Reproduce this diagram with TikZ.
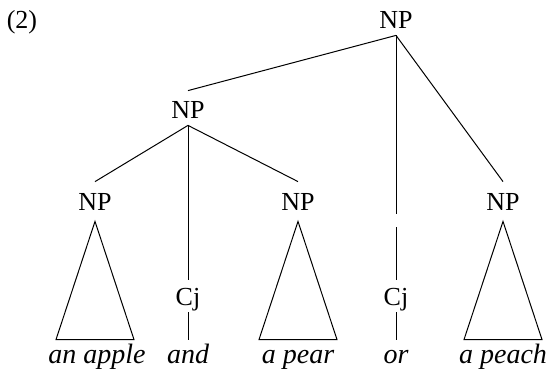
\documentclass[tikz,border=0pt]{standalone}
\usepackage{fontspec}
\setmainfont{Liberation Serif}
\usetikzlibrary{calc}

\begin{document}
\begin{tikzpicture}[
  x=0.5pt, y=-0.5pt,
  cat/.style={font=\fontsize{13}{15}\selectfont, anchor=base,
              text height=11pt, text depth=0pt, inner ysep=3pt, inner xsep=0pt},
  conj/.style={cat, text depth=2pt, inner ysep=1.5pt},
  word/.style={font=\fontsize{14}{16}\selectfont\itshape, anchor=base,
               text height=11pt, text depth=0pt, inner ysep=0.5pt, inner xsep=0pt},
  branch/.style={line width=0.5pt}
]
\useasboundingbox (0,0) rectangle (550,369);

% Example number
\node[cat] (ex) at (22,29) {(2)};

% Category labels
\node[cat]  (np0) at (396,29)  {NP};
\node[cat]  (np1) at (188,119) {NP};
\node[cat]  (npa) at (95,210)  {NP};
\node[cat]  (npb) at (298,210) {NP};
\node[cat]  (npc) at (503,210) {NP};
\node[conj] (cja) at (188,305) {Cj};
\node[conj] (cjb) at (396,305) {Cj};

% Words
\node[word] (wa) at (97,363)  {an apple};
\node[word] (wb) at (188,363) {and};
\node[word] (wc) at (298,363) {a pear};
\node[word] (wd) at (396,363) {or};
\node[word] (we) at (503,363) {a peach};

% Branches
\foreach \a/\b in {np0/np1, np0/npc, np1/npa, np1/npb, np1/cja}
  \draw[branch] (\a.south) -- (\b.north);

% Broken branch down to the second conjunction
\coordinate (gapa) at (396,214);
\coordinate (gapb) at (396,227);
\draw[branch] (np0.south) -- (gapa);
\draw[branch] (gapb) -- (cjb.north);

\foreach \c/\w in {cja/wb, cjb/wd}
  \draw[branch] (\c.south) -- (\w.north);

% Triangles over the NPs
\foreach \n/\w in {npa/wa, npb/wc, npc/we}
  \draw[branch] ([yshift=-2.5pt]\n.south)
    -- ($(\n.south |- \w.north)+(-39,0)$)
    -- ($(\n.south |- \w.north)+(39,0)$) -- cycle;

\end{tikzpicture}
\end{document}
